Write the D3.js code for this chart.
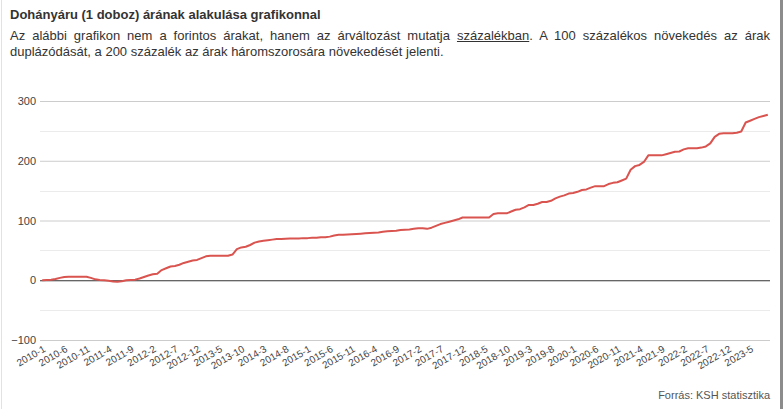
<!DOCTYPE html>
<html>
<head>
<meta charset="utf-8">
<script src="https://cdn.jsdelivr.net/npm/d3@7"></script>
<style>
  html, body { margin: 0; padding: 0; background: #fff; }
  body { width: 783px; height: 409px; position: relative; overflow: hidden; font-family: Arial, "Liberation Sans", sans-serif; }
  #head { position: absolute; left: 10px; top: 6px; width: 760px; color: #333; }
  #title { font-size: 13px; font-weight: bold; line-height: 18px; margin: 0; }
  .subline { font-size: 13px; line-height: 16px; margin: 0; white-space: nowrap; }
  #l1 { margin-top: 4px; text-align: justify; text-align-last: justify; white-space: normal; }
  #l1 a { color: #333; text-decoration: underline; }
  svg { position: absolute; left: 0; top: 0; }
</style>
</head>
<body>
<div id="head">
  <div id="title">Dohányáru (1 doboz) árának alakulása grafikonnal</div>
  <div id="l1" class="subline"><span>Az alábbi grafikon nem a forintos árakat, hanem az árváltozást mutatja</span> <a href="#">százalékban</a><span>. A 100 százalékos növekedés az árak</span></div>
  <div id="l2" class="subline"><span>duplázódását, a 200 százalék az árak háromszorosára növekedését jelenti.</span></div>
</div>
<svg id="chart" width="783" height="409"></svg>
<script>
// ---- data ----
const startYear = 2010, endYear = 2023, endMonth = 9;
const categories = [];
for (let yr = startYear; yr <= endYear; yr++) {
  for (let m = 1; m <= 12; m++) {
    if (yr === endYear && m > endMonth) break;
    categories.push(yr + "-" + m);
  }
}
const values = [
  0, 0.5, 1, 2, 4, 5.5, 6, 6, 6, 6, 6, 4,                 // 2010
  1.5, 0.5, 0, -1, -2, -2.5, -1.5, 0, 0.5, 1, 3, 5.5,     // 2011
  8, 10, 11, 17, 20, 23, 24, 26, 29, 31, 33, 34,          // 2012
  37, 40, 41, 41, 41, 41, 41, 43, 52, 55, 56, 59,         // 2013
  63, 65, 66, 67, 68, 69, 69, 69.5, 70, 70, 70, 70.5,     // 2014
  70.5, 71, 71, 72, 72, 73, 75, 76, 76, 76.5, 77, 77.5,   // 2015
  78, 78.5, 79, 79.5, 80, 81, 82, 82.5, 83, 84, 84.5, 85, // 2016
  86, 87, 87, 86, 88, 91, 94, 96, 98, 100, 102, 105,      // 2017
  105, 105, 105, 105, 105, 105, 111, 112, 112, 112, 115, 118, // 2018
  119, 122, 126, 126, 128, 131, 131, 133, 137, 140, 142, 145, // 2019
  146, 148, 151, 152, 155, 157.5, 157.5, 157.5, 161, 163, 164, 167, // 2020
  170, 185, 191, 193, 198, 209, 209, 209, 209, 211, 213, 215, // 2021
  215.5, 219, 221, 221, 221, 222, 224, 229, 240, 245, 246, 246, // 2022
  246, 247, 249, 264, 267, 270, 273, 275, 277              // 2023
];
const tickLabels = ["2010-1","2010-6","2010-11","2011-4","2011-9","2012-2","2012-7","2012-12",
  "2013-5","2013-10","2014-3","2014-8","2015-1","2015-6","2015-11","2016-4","2016-9","2017-2",
  "2017-7","2017-12","2018-5","2018-10","2019-3","2019-8","2020-1","2020-6","2020-11","2021-4",
  "2021-9","2022-2","2022-7","2022-12","2023-5"];
const yMajor = [-100, 0, 100, 200, 300];
const yMinor = [-50, 50, 150, 250];
const sourceText = "Forrás: KSH statisztika";

(function () {
  const svg = d3.select("#chart");
  const pl = 40, pr = 770, pt = 101, pb = 340;

  const x = d3.scalePoint().domain(categories).range([pl, pr]).padding(0.5);
  const y = d3.scaleLinear().domain([-100, 300]).range([pb, pt]);

  // page borders
  svg.append("line").attr("x1", 1.5).attr("x2", 1.5).attr("y1", 0).attr("y2", 409)
    .attr("stroke", "#e2e2e2").attr("stroke-width", 1);
  svg.append("rect").attr("x", 780).attr("y", 0).attr("width", 3).attr("height", 409)
    .attr("fill", "#8c8c8c");

  // minor grid
  svg.append("g").selectAll("line").data(yMinor).join("line")
    .attr("x1", pl).attr("x2", pr)
    .attr("y1", d => Math.round(y(d)) + 0.5).attr("y2", d => Math.round(y(d)) + 0.5)
    .attr("stroke", "#ebebeb").attr("stroke-width", 1);

  // y axis with major grid
  const yAxis = d3.axisLeft(y).tickValues(yMajor).tickSize(-(pr - pl)).tickPadding(5);
  const gy = svg.append("g").attr("transform", `translate(${pl},0)`).call(yAxis);
  gy.select(".domain").remove();
  gy.selectAll(".tick line").attr("stroke", d => d === 0 ? "#333" : "#cccccc").attr("stroke-width", 1);
  gy.selectAll(".tick text").attr("fill", "#444").attr("font-size", "11px")
    .attr("font-family", "Arial, 'Liberation Sans', sans-serif").attr("x", -4);
  gy.selectAll(".tick").filter(d => d === 0).raise();

  // x axis labels
  const xAxis = d3.axisBottom(x).tickValues(tickLabels).tickSize(0).tickPadding(0);
  const gx = svg.append("g").attr("transform", `translate(0,${pb + 5})`).call(xAxis);
  gx.select(".domain").remove();
  gx.selectAll(".tick text")
    .attr("fill", "#444").attr("font-size", "10px")
    .attr("font-family", "Arial, 'Liberation Sans', sans-serif")
    .attr("text-anchor", "end").attr("dy", "0.7em").attr("y", 0).attr("x", 0)
    .attr("transform", "rotate(-30)");

  // line
  const line = d3.line().x((d, i) => x(categories[i])).y(d => y(d));
  svg.append("path").datum(values)
    .attr("d", line).attr("fill", "none")
    .attr("stroke", "#d9534f").attr("stroke-width", 2).attr("stroke-linejoin", "round");

  // source
  svg.append("text").attr("x", 770).attr("y", 399).attr("text-anchor", "end")
    .attr("fill", "#555").attr("font-size", "11px")
    .attr("font-family", "Arial, 'Liberation Sans', sans-serif").text(sourceText);
})();
</script>
</body>
</html>
